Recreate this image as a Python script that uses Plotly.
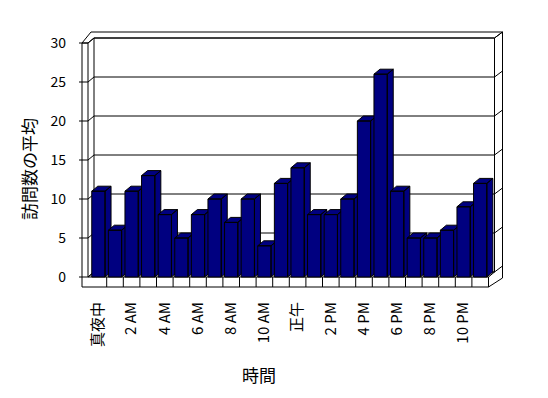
import plotly.graph_objects as go

# ---- data ----
hours = ["真夜中", "1 AM", "2 AM", "3 AM", "4 AM", "5 AM", "6 AM", "7 AM", "8 AM", "9 AM",
         "10 AM", "11 AM", "正午", "1 PM", "2 PM", "3 PM", "4 PM", "5 PM", "6 PM", "7 PM",
         "8 PM", "9 PM", "10 PM", "11 PM"]
visits = [11, 6, 11, 13, 8, 5, 8, 10, 7, 10, 4, 12, 14, 8, 8, 10, 20, 26, 11, 5, 5, 6, 9, 12]
y_ticks = [0, 5, 10, 15, 20, 25, 30]
x_title = "時間"
y_title = "訪問数の平均"

# ---- geometry (pixel scale of the front plane) ----
W, H = 548, 398
PXC = 16.6          # px per category
PYU = 7.8           # px per unit
X0PX = 90.1         # left boundary of first category
Y0PX = 277.0        # zero level on the front plane
L, R, T, B = 79, 505, 30, 290

def fx(px):
    return (px - X0PX) / PXC - 0.5

def fy(py):
    return (Y0PX - py) / PYU

DX = 6 / PXC
DY = 5 / PYU
N = len(visits)
YMAX = y_ticks[-1]
XL = fx(88)            # inner edge of left wall (front)
XR = N - 0.5           # right end of floor (front)
YB = fy(287)           # bottom of floor slab
XLO = fx(82)           # outer edge of left wall
XRO = XR + DX + 8 / PXC
YTO = YMAX + DY + 6 / PYU

fig = go.Figure()

segs_x, segs_y = [], []
def seg(pts):
    for p in pts:
        segs_x.append(p[0]); segs_y.append(p[1])
    segs_x.append(None); segs_y.append(None)

# outer outline
seg([(XLO, YB), (XLO, YMAX), (fx(91), YTO), (XRO, YTO), (XRO, fy(278)), (XR, YB), (XLO, YB)])
# left wall front face inner edge and top
seg([(XLO, YMAX), (XL, YMAX), (XL + DX, YMAX + DY)])
seg([(XL, YMAX), (XL, 0)])
# back wall inner face
seg([(XL + DX, 0 + DY), (XL + DX, YMAX + DY), (XR + DX, YMAX + DY), (XR + DX, DY)])
seg([(XR + DX, YMAX + DY), (XRO, YTO)])
# floor
seg([(XL, 0), (XR, 0), (XR + DX, DY), (XL + DX, DY)])
seg([(XR, 0), (XR, YB)])
seg([(XL, 0), (XL + DX, DY)])
# category dividers on floor front
for k in range(1, N):
    seg([(k - 0.5, 0), (k - 0.5, YB)])
# gridlines & ticks
for v in y_ticks:
    seg([(fx(79), v), (XL, v), (XL + DX, v + DY), (XR + DX, v + DY), (XRO, v + DY + 6 / PYU)])

fig.add_trace(go.Scatter(x=segs_x, y=segs_y, mode="lines",
                         line=dict(color="black", width=1), hoverinfo="skip",
                         showlegend=False))

# bars with pseudo-3D faces
BW = 0.8
for i, v in enumerate(visits):
    xl, xr = i - BW / 2, i + BW / 2
    xs = [xl, xr, xr, xl, xl, None,
          xl, xl + DX, xr + DX, xr, xl, None,
          xr, xr + DX, xr + DX, xr, xr]
    ys = [0, 0, v, v, 0, None,
          v, v + DY, v + DY, v, v, None,
          0, DY, v + DY, v, 0]
    fig.add_trace(go.Scatter(x=xs, y=ys, mode="lines", fill="toself",
                             fillcolor="#000080", line=dict(color="black", width=1),
                             hoverinfo="skip", showlegend=False))

FONT = "Noto Sans CJK JP"
fig.update_layout(
    width=W, height=H,
    margin=dict(l=L, r=W - R, t=T, b=H - B, autoexpand=False),
    paper_bgcolor="white", plot_bgcolor="white",
    font=dict(family=FONT, color="black"),
    xaxis=dict(range=[fx(L), fx(R)], showgrid=False, zeroline=False, showline=False,
               tickmode="array", tickvals=list(range(0, N, 2)),
               ticktext=hours[0::2], tickangle=-90, ticks="",
               ticklabelstandoff=8, tickfont=dict(size=15, family=FONT),
               automargin=False, fixedrange=True),
    yaxis=dict(range=[fy(B), fy(T)], showgrid=False, zeroline=False, showline=False,
               tickmode="array", tickvals=y_ticks, ticks="",
               ticklabelstandoff=12, tickfont=dict(size=14, family=FONT),
               automargin=False, fixedrange=True),
    annotations=[
        dict(text=y_title, xref="paper", yref="paper",
             x=(28 - L) / (R - L), y=(B - 169) / (B - T), textangle=-90,
             showarrow=False, font=dict(size=17, family=FONT),
             xanchor="center", yanchor="middle"),
        dict(text=x_title, xref="paper", yref="paper",
             x=(259 - L) / (R - L), y=(B - 374) / (B - T),
             showarrow=False, font=dict(size=17, family=FONT),
             xanchor="center", yanchor="middle"),
    ],
)

fig.write_html("out.html", config={"displayModeBar": False},
               post_script="document.body.style.margin='0';document.body.style.padding='0';")
